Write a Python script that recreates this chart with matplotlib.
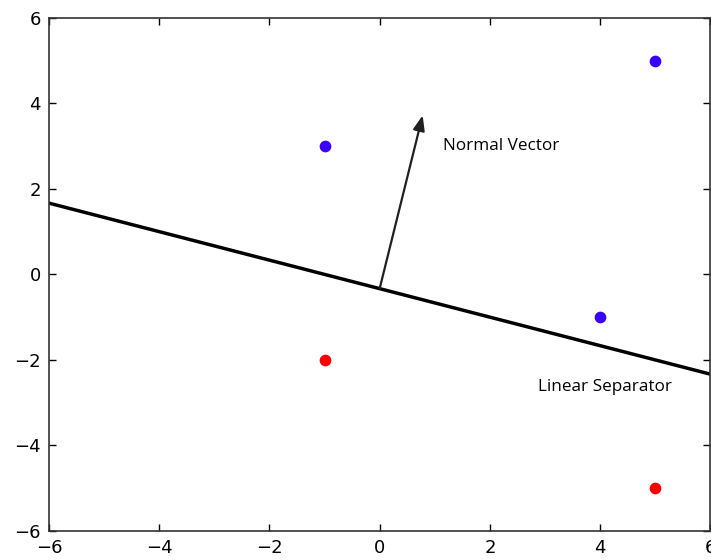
import matplotlib
matplotlib.use("Agg")
import matplotlib.pyplot as plt

# points
blue_x = [-1, 5, 4]
blue_y = [3, 5, -1]
red_x = [-1, 5]
red_y = [-2, -5]

# separator x + 3y + 1 = 0
sep_x = [-6, 6]
sep_y = [-(x + 1) / 3 for x in sep_x]

# normal vector (start, end)
vec_start = (0, -0.33)
vec_end = (0.78, 3.72)

ticks = [-6, -4, -2, 0, 2, 4, 6]

fig = plt.figure(figsize=(7.11, 5.6), dpi=100)
ax = fig.add_axes([0.069, 0.052, 0.93, 0.916])

ax.plot(sep_x, sep_y, color="black", lw=2.5)
ax.scatter(blue_x, blue_y, s=55, color="#3a00ff", zorder=3)
ax.scatter(red_x, red_y, s=55, color="#ff0000", zorder=3)

ax.annotate("", xy=vec_end, xytext=vec_start,
            arrowprops=dict(arrowstyle="-|>,head_length=0.9,head_width=0.35",
                            color="#231f20", lw=1.6, shrinkA=0, shrinkB=0))

ax.text(1.15, 3.0, "Normal Vector", fontsize=12.3, family="Open Sans",
        ha="left", va="center", color="black")
ax.text(2.87, -2.64, "Linear Separator", fontsize=12.3, family="Open Sans",
        ha="left", va="center", color="black")

ax.set_xlim(-6, 6)
ax.set_ylim(-6, 6)
ax.set_xticks(ticks)
ax.set_yticks(ticks)
ax.tick_params(direction="in", top=True, right=True, length=5, width=1,
               labelsize=13, pad=6)
for sp in ax.spines.values():
    sp.set_linewidth(1.2)
    sp.set_color("#333333")

fig.savefig("out.png", dpi=100)
